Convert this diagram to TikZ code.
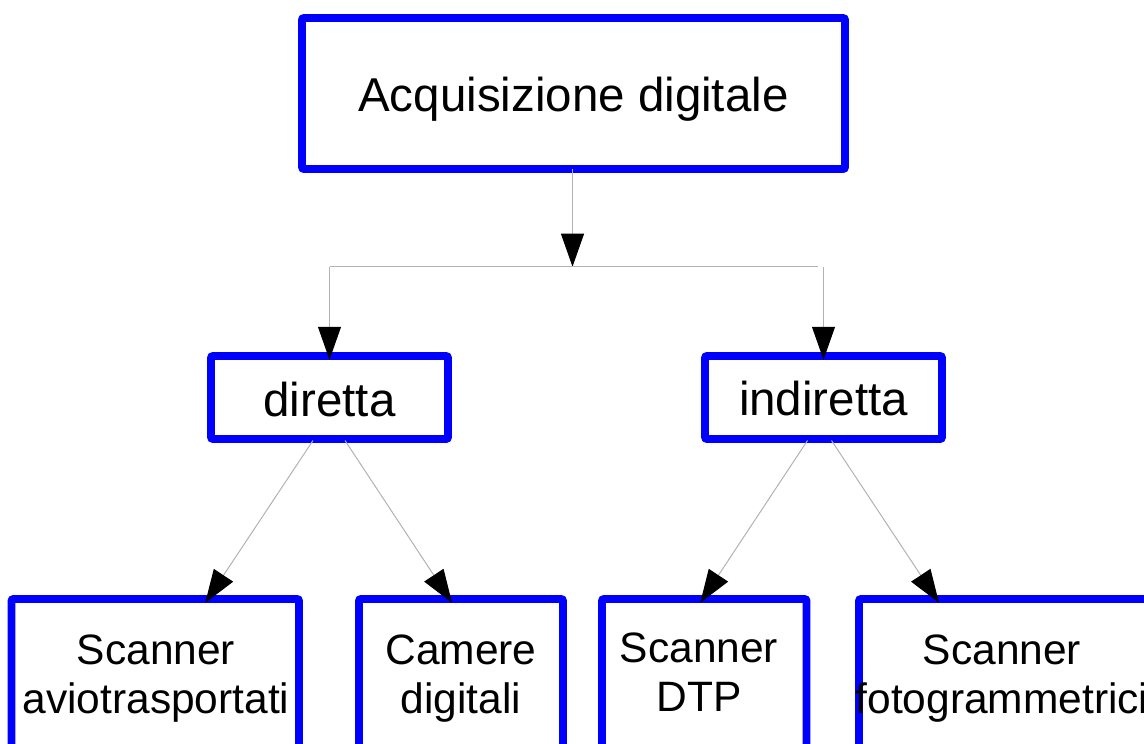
\documentclass[tikz,border=0pt]{standalone}
\usepackage{fontspec}
\setmainfont{Liberation Sans}
\usetikzlibrary{arrows.meta,calc}

\tikzset{
  box/.style={draw=blue, line width=7.8pt, rounded corners=2pt, fill=white,
              inner sep=0pt, outer sep=0pt},
  bigtext/.style={font=\fontsize{47.5}{56}\selectfont, inner sep=0pt, anchor=north},
  smalltext/.style={font=\fontsize{42.5}{48.5}\selectfont, inner sep=0pt, anchor=north, align=center},
  link/.style={draw=black!30, line width=1pt,
               -{Triangle[length=33pt, width=23pt, color=black]}},
  plain/.style={draw=black!30, line width=1pt}
}

\begin{document}
\begin{tikzpicture}[x=1pt, y=-1pt]
  \useasboundingbox (0,0) rectangle (1144,744);
  \clip (0,0) rectangle (1144,744);

  % boxes (stroke centre lines)
  \node[box, minimum width=543pt, minimum height=151pt] (A) at (573.5,93.5) {};
  \node[box, minimum width=237pt, minimum height=83pt] (D) at (329.5,397.5) {};
  \node[box, minimum width=237pt, minimum height=83pt] (I) at (823.5,397.5) {};
  \node[box, minimum width=287.5pt, minimum height=161pt] (B1) at (155.25,679.5) {};
  \node[box, minimum width=204pt, minimum height=161pt] (B2) at (461,679.5) {};
  \node[box, minimum width=204.5pt, minimum height=161pt] (B3) at (704.25,679.5) {};
  \node[box, minimum width=320pt, minimum height=161pt] (B4) at (1019,679.5) {};

  % labels
  \node[bigtext] (At) at (573.5,77) {Acquisizione digitale};
  \node[bigtext] (Dt) at (329.5,381.5) {diretta};
  \node[bigtext] (It) at (823.5,381) {indiretta};
  \node[smalltext] (B1t) at (156,635) {Scanner\\aviotrasportati};
  \node[smalltext] (B2t) at (461,635) {Camere\\digitali};
  \node[smalltext] (B3t) at (699,633) {Scanner\\DTP};
  \node[smalltext] (B4t) at (1002,635) {Scanner\\fotogrammetrici};

  % first level: top box to the two branches
  \coordinate (J) at ($(A.south)+(-1,97.7)$);
  \coordinate (JL) at (J -| D.north);
  \coordinate (JR) at ($(J -| I.north)+(-6,0)$);
  \draw[link] (A.south -| J) -- (J);
  \draw[plain] (JL) -- (JR);
  \draw[link] (JL) -- ($(D.north)+(0,3.75)$);
  \draw[link] (J -| I.north) -- ($(I.north)+(0,3.75)$);

  % second level: branches to the devices
  \draw[link] ($(D.south)+(-16.5,1.5)$) -- ($(B1.north)+(50,3.75)$);
  \draw[link] ($(D.south)+(15.5,1.5)$) -- ($(B2.north)+(-9,3.75)$);
  \draw[link] ($(I.south)+(-16,1.5)$) -- ($(B3.north)+(-4,3.75)$);
  \draw[link] ($(I.south)+(8,1.5)$) -- ($(B4.north)+(-80,3.75)$);
\end{tikzpicture}
\end{document}
